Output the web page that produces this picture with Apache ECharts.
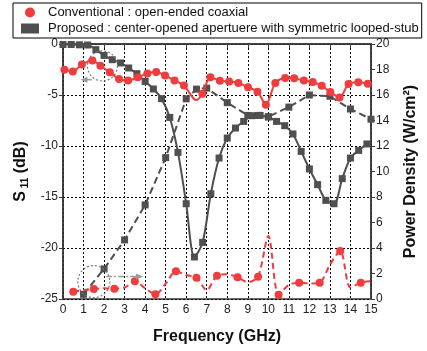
<!DOCTYPE html>
<html>
<head>
<meta charset="utf-8">
<script src="https://cdn.jsdelivr.net/npm/echarts@6.0.0/dist/echarts.min.js"></script>
<style>
  html, body { margin: 0; padding: 0; background: #fff; }
  #main { width: 427px; height: 351px; }
</style>
</head>
<body>
<div id="main"></div>
<script>
// Conventional : open-ended coaxial, S11 (dB)
const convFreq = [0.07, 0.48, 0.92, 1.43, 1.82, 2.28, 2.73, 3.17, 3.64, 4.11, 4.54, 4.97, 5.43, 5.89, 6.49, 6.79,
  7.18, 7.64, 8.09, 8.54, 9.01, 9.47, 9.88, 10.34, 10.82, 11.26, 11.73, 12.16, 12.6, 13.02, 13.47, 13.91, 14.38, 14.84];
const convS11 = [-2.52, -2.69, -2.0, -1.61, -2.13, -2.78, -3.43, -3.57, -3.27, -2.88, -2.75, -3.08, -3.57, -4.06, -5.5, -4.87,
  -3.27, -3.6, -3.67, -3.82, -4.25, -4.68, -5.95, -3.82, -3.33, -3.37, -3.57, -3.73, -4.09, -4.71, -5.24, -3.92, -3.76, -3.89];
const convHidden = [6.49]; // points with no marker

// Conventional : power density (W/cm2)
const convPowFreq = [0.5, 1, 1.5, 2, 2.5, 3, 3.5, 4, 4.5, 5, 5.5, 6, 6.5, 7, 7.5, 8, 8.5, 9, 9.5, 10,
  10.5, 11, 11.5, 12, 12.5, 13, 13.5, 14, 14.5, 15];
const convPower = [0.57, 0.7, 0.79, 0.84, 0.81, 0.9, 1.39, 0.85, 0.37, 1.2, 2.17, 1.88, 1.67, 0.7, 1.83, 1.95, 1.7, 1.32, 1.75, 4.95,
  0.34, 1.1, 1.28, 1.22, 1.28, 2.7, 3.77, 0.9, 1.28, 1.4];

// Proposed : S11 (dB)
const propFreq = [0, 0.4, 0.8, 1.2, 1.6, 2.0, 2.4, 2.8, 3.2, 3.6, 4.0, 4.4, 4.8, 5.2, 5.6, 6.0, 6.4, 6.8, 7.2, 7.6,
  8.0, 8.4, 8.8, 9.2, 9.6, 10.0, 10.4, 10.8, 11.2, 11.6, 12.0, 12.4, 12.8, 13.2, 13.6, 14.0, 14.4, 14.8];
const propS11 = [-0.05, -0.05, -0.08, -0.1, -0.55, -1.12, -1.54, -1.86, -2.35, -2.91, -3.67, -4.41, -5.36, -7.2, -10.63, -15.66, -20.88, -19.45, -14.68, -11.18,
  -9.22, -8.24, -7.59, -7.03, -7.0, -7.16, -7.59, -8.01, -8.82, -10.53, -12.25, -13.79, -15.33, -15.66, -13.2, -11.18, -10.43, -9.8];

// Proposed : power density (W/cm2)
const propPowFreq = [1, 2, 3, 4, 5, 6, 6.5, 7, 8, 9, 9.5, 10, 11, 12, 13, 14, 15];
const propPower = [0.37, 2.36, 4.63, 7.38, 11.09, 15.7, 16.46, 16.54, 15.4, 14.4, 14.4, 14.3, 15.05, 16.0, 15.9, 14.9, 14.1];

const legendNames = ['Conventional : open-ended coaxial', 'Proposed : center-opened apertuere with symmetric looped-stub'];

const RED = '#f03c3c';
const GRAY = '#4f4f4f';

const pairs = (xs, ys) => xs.map((x, i) => [x, ys[i]]);

const chart = echarts.init(document.getElementById('main'), null, { renderer: 'canvas' });

const axisLine = { show: true, lineStyle: { color: '#3a3a3a', width: 1.5 } };
const labelStyle = { color: '#222', fontSize: 12, fontFamily: 'Liberation Sans, Arial, sans-serif' };

const option = {
  animation: false,
  textStyle: { fontFamily: 'Liberation Sans, Arial, sans-serif' },
  grid: { left: 63, right: 48, top: 44, bottom: 52, show: true, borderColor: '#3a3a3a', borderWidth: 1.5, backgroundColor: 'transparent' },
  legend: {
    orient: 'vertical',
    left: 13,
    top: 3,
    padding: [3, 3, 3, 8],
    itemGap: 3,
    itemWidth: 18,
    itemHeight: 10,
    borderColor: '#000',
    borderWidth: 1,
    borderRadius: 0,
    textStyle: { fontSize: 13, color: '#111', padding: [0, 0, 0, 4] },
    data: [
      { name: legendNames[0], icon: 'circle', itemStyle: { color: RED } },
      { name: legendNames[1], icon: 'rect', itemStyle: { color: GRAY } }
    ]
  },
  xAxis: {
    type: 'value',
    min: 0,
    max: 15,
    interval: 1,
    name: 'Frequency (GHz)',
    nameLocation: 'middle',
    nameGap: 30,
    nameTextStyle: { fontSize: 16, fontWeight: 'bold', color: '#111' },
    axisLine: axisLine,
    axisTick: { show: true, inside: false, length: 4, lineStyle: { color: '#3a3a3a' } },
    axisLabel: Object.assign({ margin: 5 }, labelStyle),
    splitLine: { show: true, lineStyle: { color: '#000', type: [2, 2], width: 1 } }
  },
  yAxis: [
    {
      type: 'value',
      min: -25,
      max: 0,
      interval: 5,
      position: 'left',
      name: '{a|S}{b| 11}{a| (dB)}',
      nameLocation: 'middle',
      nameRotate: 90,
      nameGap: 27,
      nameTextStyle: {
        rich: {
          a: { fontSize: 16, fontWeight: 'bold', color: '#111', lineHeight: 18 },
          b: { fontSize: 10, fontWeight: 'bold', color: '#111', lineHeight: 18, verticalAlign: 'bottom', padding: [5, 0, 0, 0] }
        }
      },
      axisLine: axisLine,
      axisTick: { show: true, inside: false, length: 4, lineStyle: { color: '#3a3a3a' } },
      axisLabel: Object.assign({ margin: 5 }, labelStyle),
      splitLine: { show: true, lineStyle: { color: '#000', type: [2, 2], width: 1 } }
    },
    {
      type: 'value',
      min: 0,
      max: 20,
      interval: 2,
      position: 'right',
      name: 'Power Density (W/cm²)',
      nameLocation: 'middle',
      nameRotate: 90,
      nameGap: 32,
      nameTextStyle: { fontSize: 16, fontWeight: 'bold', color: '#111' },
      axisLine: axisLine,
      axisTick: { show: true, inside: false, length: 4, lineStyle: { color: '#3a3a3a' } },
      axisLabel: Object.assign({ margin: 5 }, labelStyle),
      splitLine: { show: false }
    }
  ],
  series: [
    {
      name: legendNames[0],
      type: 'line',
      yAxisIndex: 0,
      smooth: 0.3,
      symbol: 'circle',
      symbolSize: 8,
      z: 3,
      lineStyle: { color: RED, width: 2 },
      itemStyle: { color: RED },
      data: pairs(convFreq, convS11).map(p => convHidden.includes(p[0]) ? { value: p, symbol: 'none' } : p)
    },
    {
      name: legendNames[0],
      type: 'line',
      yAxisIndex: 1,
      smooth: 0.3,
      symbol: 'circle',
      symbolSize: 8,
      z: 3,
      lineStyle: { color: RED, width: 2, type: [6, 4] },
      itemStyle: { color: RED },
      data: pairs(convPowFreq, convPower).map(p => Number.isInteger(p[0]) ? { value: p, symbol: 'none' } : p)
    },
    {
      name: legendNames[1],
      type: 'line',
      yAxisIndex: 0,
      smooth: 0.3,
      symbol: 'rect',
      symbolSize: 7,
      z: 2,
      lineStyle: { color: GRAY, width: 2 },
      itemStyle: { color: GRAY },
      data: pairs(propFreq, propS11)
    },
    {
      name: legendNames[1],
      type: 'line',
      yAxisIndex: 1,
      smooth: false,
      symbol: 'rect',
      symbolSize: 7,
      z: 2,
      lineStyle: { color: GRAY, width: 2, type: [7, 4] },
      itemStyle: { color: GRAY },
      data: pairs(propPowFreq, propPower)
    }
  ]
};

chart.setOption(option);

// dotted circles with arrows showing which axis each group belongs to
function annot(center, radius, arrowFrom, arrowTo) {
  const c = chart.convertToPixel({ xAxisIndex: 0, yAxisIndex: 0 }, center);
  const a = chart.convertToPixel({ xAxisIndex: 0, yAxisIndex: 0 }, arrowFrom);
  const b = chart.convertToPixel({ xAxisIndex: 0, yAxisIndex: 0 }, arrowTo);
  const dir = Math.sign(b[0] - a[0]);
  return [
    { type: 'circle', shape: { cx: c[0], cy: c[1], r: radius }, style: { fill: 'none', stroke: '#7a7a7a', lineWidth: 1.2, lineDash: [2, 2] }, z: 10 },
    { type: 'line', shape: { x1: a[0], y1: a[1], x2: b[0] - dir * 4, y2: b[1] }, style: { stroke: '#9a9a9a', lineWidth: 1.5, lineDash: [6, 2, 2, 2] }, z: 10 },
    { type: 'polygon', shape: { points: [[b[0], b[1]], [b[0] - dir * 7, b[1] - 3], [b[0] - dir * 7, b[1] + 3]] }, style: { fill: '#9a9a9a' }, z: 10 }
  ];
}

chart.setOption({
  graphic: [].concat(
    annot([1.92, -2.15], 15, [1.4, -3.5], [0.85, -3.5]),
    annot([1.5, -23.3], 16, [2.1, -22.8], [3.9, -22.8])
  )
});
</script>
</body>
</html>
